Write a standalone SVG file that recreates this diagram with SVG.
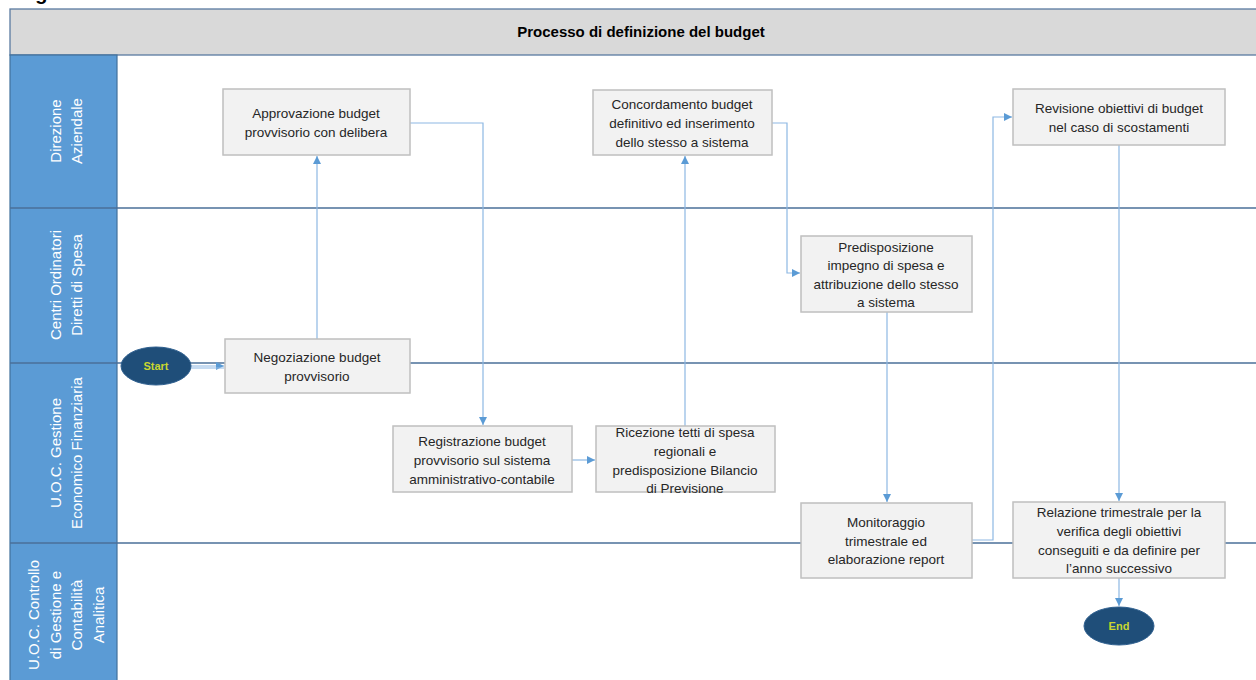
<svg xmlns="http://www.w3.org/2000/svg" width="1256" height="680" viewBox="0 0 1256 680">
<style>
.lane{fill:#5b9bd5;stroke:#41719c;stroke-width:1.2}
.sep{stroke:#4a6f99;stroke-width:1.3;fill:none}
.lbl{font-family:"Liberation Sans",Arial,sans-serif;font-size:15px;fill:#ffffff;text-anchor:middle}
.box{fill:#f2f2f2;stroke:#bfbfbf;stroke-width:1.5}
.t{font-family:"Liberation Sans",Arial,sans-serif;font-size:13.5px;fill:#262626;text-anchor:middle}
.term{fill:#1f4e79;stroke:#2e5f8f;stroke-width:1}
.tt{font-family:"Liberation Sans",Arial,sans-serif;font-size:11px;font-weight:bold;fill:#c9d630;text-anchor:middle}
.c{fill:none;stroke:#8db8e3;stroke-width:1.2}
</style>
<defs>
<marker id="a" viewBox="0 0 10 10" refX="10" refY="5" markerWidth="8" markerHeight="8" markerUnits="userSpaceOnUse" orient="auto">
<path d="M0,0 L10,5 L0,10 z" fill="#5b9bd5"/>
</marker>
</defs>
<rect width="1256" height="680" fill="#ffffff"/>
<text x="0" y="-0.5" font-family="Liberation Sans,Arial,sans-serif" font-size="20" font-weight="bold" fill="#000000" textLength="255">Diagramma di Processo</text>
<g id="header">
<rect x="10" y="9" width="1260" height="46" fill="#d9d9d9" stroke="#5a7aa0" stroke-width="1.3"/>
<text x="641" y="37" font-family="Liberation Sans,Arial,sans-serif" font-size="15" font-weight="bold" fill="#000000" text-anchor="middle">Processo di definizione del budget</text>
</g>
<g id="lanes">
<rect class="lane" x="10" y="55" width="107" height="640"/>
<line class="sep" x1="10" y1="208" x2="1256" y2="208"/>
<line class="sep" x1="10" y1="363" x2="1256" y2="363"/>
<line class="sep" x1="10" y1="543" x2="1256" y2="543"/>
<g id="lane1" transform="translate(0,131) rotate(-90)">
<text class="lbl" x="0" y="61">Direzione</text>
<text class="lbl" x="0" y="82">Aziendale</text>
</g>
<g id="lane2" transform="translate(0,285) rotate(-90)">
<text class="lbl" x="0" y="61">Centri Ordinatori</text>
<text class="lbl" x="0" y="82">Diretti di Spesa</text>
</g>
<g id="lane3" transform="translate(0,453) rotate(-90)">
<text class="lbl" x="0" y="61">U.O.C. Gestione</text>
<text class="lbl" x="0" y="82">Economico Finanziaria</text>
</g>
<g id="lane4" transform="translate(0,615) rotate(-90)">
<text class="lbl" x="0" y="39">U.O.C. Controllo</text>
<text class="lbl" x="0" y="61">di Gestione e</text>
<text class="lbl" x="0" y="82">Contabilità</text>
<text class="lbl" x="0" y="104">Analitica</text>
</g>
</g>
<g id="connectors">
<path class="c" d="M191,366 H224" marker-end="url(#a)"/>
<path class="c" d="M191,368 H224"/>
<path class="c" d="M317,339 V156" marker-end="url(#a)"/>
<path class="c" d="M410,123 H483 V425" marker-end="url(#a)"/>
<path class="c" d="M572,460 H595" marker-end="url(#a)"/>
<path class="c" d="M685,426 V156" marker-end="url(#a)"/>
<path class="c" d="M772,123 H787 V273 H800" marker-end="url(#a)"/>
<path class="c" d="M887,312 V502" marker-end="url(#a)"/>
<path class="c" d="M972,540 H993 V117 H1012" marker-end="url(#a)"/>
<path class="c" d="M1119,145 V501" marker-end="url(#a)"/>
<path class="c" d="M1119,578 V606" marker-end="url(#a)"/>
</g>
<g id="start">
<ellipse class="term" cx="156" cy="366" rx="35" ry="19"/>
<text class="tt" x="156" y="370">Start</text>
</g>
<g id="end">
<ellipse class="term" cx="1119" cy="626" rx="35" ry="19"/>
<text class="tt" x="1119" y="630">End</text>
</g>
<g id="n-approvazione">
<rect class="box" x="223" y="89" width="187" height="66"/>
<text class="t" x="316" y="118">Approvazione budget</text>
<text class="t" x="316" y="137">provvisorio con delibera</text>
</g>
<g id="n-concordamento">
<rect class="box" x="593" y="90" width="179" height="65"/>
<text class="t" x="682" y="109">Concordamento budget</text>
<text class="t" x="682" y="128">definitivo ed inserimento</text>
<text class="t" x="682" y="147">dello stesso a sistema</text>
</g>
<g id="n-revisione">
<rect class="box" x="1013" y="89" width="212" height="56"/>
<text class="t" x="1119" y="113">Revisione obiettivi di budget</text>
<text class="t" x="1119" y="132">nel caso di scostamenti</text>
</g>
<g id="n-predisposizione">
<rect class="box" x="801" y="236" width="171" height="76"/>
<text class="t" x="886" y="252">Predisposizione</text>
<text class="t" x="886" y="270">impegno di spesa e</text>
<text class="t" x="886" y="289">attribuzione dello stesso</text>
<text class="t" x="886" y="307">a sistema</text>
</g>
<g id="n-negoziazione">
<rect class="box" x="225" y="339" width="185" height="54"/>
<text class="t" x="317" y="362">Negoziazione budget</text>
<text class="t" x="317" y="381">provvisorio</text>
</g>
<g id="n-registrazione">
<rect class="box" x="393" y="426" width="179" height="66"/>
<text class="t" x="482" y="446">Registrazione budget</text>
<text class="t" x="482" y="465">provvisorio sul sistema</text>
<text class="t" x="482" y="484">amministrativo-contabile</text>
</g>
<g id="n-ricezione">
<rect class="box" x="596" y="426" width="179" height="66"/>
<text class="t" x="685" y="437">Ricezione tetti di spesa</text>
<text class="t" x="685" y="456">regionali e</text>
<text class="t" x="685" y="475">predisposizione Bilancio</text>
<text class="t" x="685" y="493">di Previsione</text>
</g>
<g id="n-monitoraggio">
<rect class="box" x="801" y="503" width="171" height="75"/>
<text class="t" x="886" y="527">Monitoraggio</text>
<text class="t" x="886" y="546">trimestrale ed</text>
<text class="t" x="886" y="564">elaborazione report</text>
</g>
<g id="n-relazione">
<rect class="box" x="1013" y="502" width="212" height="76"/>
<text class="t" x="1119" y="517">Relazione trimestrale per la</text>
<text class="t" x="1119" y="536">verifica degli obiettivi</text>
<text class="t" x="1119" y="555">conseguiti e da definire per</text>
<text class="t" x="1119" y="573">l’anno successivo</text>
</g>
</svg>
